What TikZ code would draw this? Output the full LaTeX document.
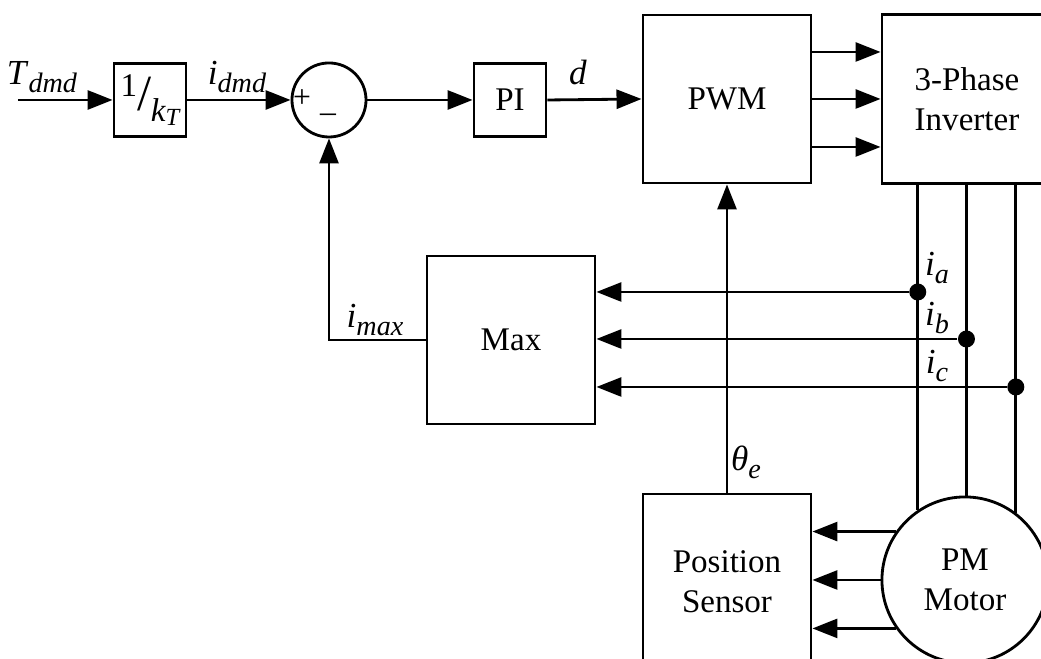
\documentclass[tikz,border=0pt]{standalone}
\usepackage{fontspec}
\setmainfont{Liberation Serif}
\usepackage{tikz}
\usetikzlibrary{shapes,arrows.meta,positioning,calc}

% italic signal names with a subscript
\newcommand{\sig}[2]{\textit{#1}\raisebox{-0.5ex}{\footnotesize\itshape #2}}

\begin{document}
\begin{tikzpicture}[
    x=0.01cm, y=-0.01cm,
    font=\fontsize{9.4}{11.5}\selectfont,
    block/.style={
        draw,
        thick,
        minimum width=#1,
        inner sep=0pt,
        align=center
    },
    block/.default=0.72cm,
    sumnode/.style={
        draw,
        thick,
        circle,
        minimum size=0.74cm,
        inner sep=0pt
    },
    motor/.style={
        draw,
        thick,
        circle,
        minimum size=1.66cm,
        inner sep=0pt,
        align=center
    },
    arrow/.style={
        -{Triangle[length=2.5mm,width=1.9mm]},
        thick
    },
    wire/.style={
        thick
    },
    dot/.style={
        circle,
        fill=black,
        minimum size=0.17cm,
        inner sep=0pt
    },
    lbl/.style={
        inner sep=1pt,
        font=\fontsize{10}{12}\selectfont
    }
]
\clip (0,0) rectangle (1041,659);
% Forward path
\node[block, minimum height=0.73cm] at (150,100) (gain) {%
    \raisebox{0.75ex}{1}\kern0.02em\raisebox{-0.2ex}{\Large /}\kern-0.03em\raisebox{-0.9ex}{\itshape k\raisebox{-0.3ex}{\scriptsize T}}};
\node[sumnode] at (329,100) (sum) {};
\node[font=\small] at (302,99) (plus) {+};
\node[font=\small] at (328,114) (minus) {\_};
\node[block, minimum height=0.73cm] at (510,100) (pi) {PI};
\node[block=1.68cm, minimum height=1.68cm] at (727,99) (pwm) {PWM};
\node[block=1.70cm, minimum height=1.69cm] at (967,99) (inv) {3-Phase\\Inverter};
% Feedback path
\node[block=1.68cm, minimum height=1.68cm] at (511,340) (max) {Max};
\node[block=1.68cm, minimum height=1.76cm] at (727,582) (sensor) {Position\\Sensor};
\node[motor] at (965,580) (pm) {PM\\Motor};
% Signal labels
\coordinate (tin) at (18,100);
\node[lbl] at (42,77) (tdmd) {\sig{T}{dmd}};
\node[lbl] at (237,77) (idmd) {\sig{i}{dmd}};
\node[lbl] at (578,72) (dlbl) {\textit{d}};
\node[lbl] at (375,320) (imax) {\sig{i}{max}};
\node[lbl] at (746,462) (theta) {\sig{θ}{e}};
% Arrows along the forward path
\draw[arrow] (tin) -- (gain.west);
\draw[arrow] (gain.east) -- (sum.west);
\draw[arrow] (sum.east) -- (pi.west);
\draw[arrow] (pi.east) -- (pwm.west);
\foreach \dy in {-47,0,48} {
    \draw[arrow] ($(pwm.east)+(0,\dy)$) -- ($(inv.west)+(0,\dy)$);
}
% Phase lines from inverter to motor
\foreach \ang in {124,89,53} {
    \draw[wire] (inv.south -| pm.\ang) -- (pm.\ang);
}
% Current taps
\node[dot] at (pm.124 |- 0,292) (ja) {};
\node[dot] at (pm.89 |- 0,339) (jb) {};
\node[dot] at (pm.53 |- 0,387) (jc) {};
\draw[arrow] (ja) -- (ja -| max.east);
\draw[arrow] (jb) -- (jb -| max.east);
\draw[arrow] (jc) -- (jc -| max.east);
\node[lbl] at (937,268) (ia) {\sig{i}{a}};
\node[lbl] at (937,318) (ib) {\sig{i}{b}};
\node[lbl] at (937,366) (ic) {\sig{i}{c}};
% Max back to the summing junction
\draw[arrow] (max.west) -| (sum.south);
% Rotor position
\draw[arrow] (sensor.north) -- (pwm.south);
\foreach \ang in {145,180,215} {
    \draw[arrow] (pm.\ang) -- (pm.\ang -| sensor.east);
}
\end{tikzpicture}
\end{document}
